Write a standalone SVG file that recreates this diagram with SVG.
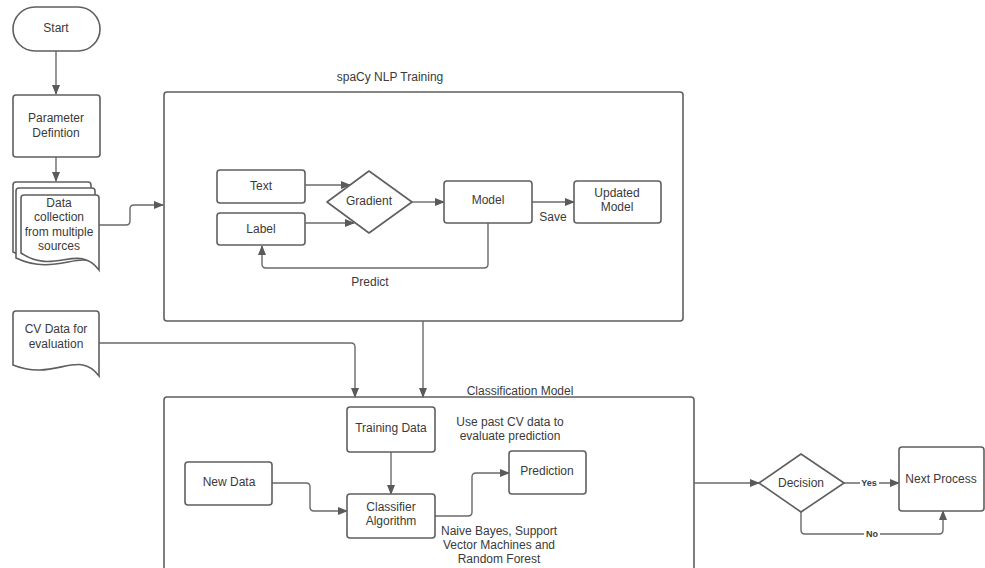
<svg xmlns="http://www.w3.org/2000/svg" width="985" height="568" viewBox="0 0 985 568">
<defs>
<marker id="arr" markerWidth="10" markerHeight="8" refX="9" refY="4" orient="auto" markerUnits="userSpaceOnUse">
<path d="M0,0 L10,4 L0,8 Z" fill="#5a5a5a"/>
</marker>
<style>
.n{fill:#fff;stroke:#5f5f5f;stroke-width:1.6}
.g{fill:none;stroke:#5f5f5f;stroke-width:1.6}
.ca{fill:none;stroke:#6a6a6a;stroke-width:1.4;stroke-linejoin:round;marker-end:url(#arr)}
text{font-family:"Liberation Sans",Arial,sans-serif;font-size:12px;fill:#3a3a3a;text-anchor:middle;dominant-baseline:central}
.s{font-size:9px;font-weight:bold}
</style>
</defs>
<rect width="985" height="568" fill="#fff"/>

<g id="spacy">
<rect class="g" x="164" y="92" width="519" height="229" rx="3"/>
<text x="390" y="77">spaCy NLP Training</text>
</g>

<g id="classification">
<rect class="g" x="164" y="397" width="530" height="180" rx="3"/>
<text x="520" y="391">Classification Model</text>
<text x="510" y="422">Use past CV data to</text>
<text x="510" y="436">evaluate prediction</text>
<text x="499" y="531">Naive Bayes, Support</text>
<text x="499" y="545">Vector Machines and</text>
<text x="499" y="559">Random Forest</text>
</g>

<g id="connectors">
<path class="ca" d="M56,51 V94"/>
<path class="ca" d="M56,157 V181"/>
<path class="ca" d="M99,225 H126 Q130,225 130,221 V209 Q130,205 134,205 H163"/>
<path class="ca" d="M305,185 H350"/>
<path class="ca" d="M305,223 H354"/>
<path class="ca" d="M412,202 H444"/>
<path class="ca" d="M532,202 H574"/>
<path class="ca" d="M488,223 V264 Q488,268 484,268 H266 Q262,268 262,264 V246"/>
<path class="ca" d="M423,321 V397"/>
<path class="ca" d="M99,343 H351 Q355,343 355,347 V397"/>
<path class="ca" d="M391,452 V494"/>
<path class="ca" d="M272,483 H306 Q310,483 310,487 V507 Q310,511 314,511 H347"/>
<path class="ca" d="M435,516 H468 Q472,516 472,512 V477 Q472,473 476,473 H509"/>
<path class="ca" d="M694,483 H759"/>
<path class="ca" d="M844,483 H899"/>
<path class="ca" d="M801,512 V530 Q801,534 805,534 H939 Q943,534 943,530 V511"/>
<text x="553" y="217">Save</text>
<text x="370" y="282">Predict</text>
<rect x="860" y="478" width="19" height="10" fill="#fff"/>
<text class="s" x="869" y="483">Yes</text>
<rect x="864" y="529" width="16" height="10" fill="#fff"/>
<text class="s" x="872" y="534">No</text>
</g>

<g id="start">
<rect class="n" x="13" y="7" width="87" height="44" rx="22"/>
<text x="56" y="28">Start</text>
</g>

<g id="parameter">
<rect class="n" x="13" y="95" width="87" height="62" rx="3"/>
<text x="56" y="118">Parameter</text>
<text x="56" y="133">Defintion</text>
</g>

<g id="data-collection">
<path class="n" d="M16,182 H88 Q91,182 91,185 V258 C75,245 50,270 13,252 V185 Q13,182 16,182 Z"/>
<path class="n" d="M19,188 H92 Q95,188 95,191 V264 C79,251 54,276 16,258 V191 Q16,188 19,188 Z"/>
<path class="n" d="M24,195 H96 Q99,195 99,198 V270 C78,242 55,276 21,253 V198 Q21,195 24,195 Z"/>
<text x="59" y="203">Data</text>
<text x="59" y="217">collection</text>
<text x="59" y="232">from multiple</text>
<text x="59" y="246">sources</text>
</g>

<g id="cv-data">
<path class="n" d="M16,311 H96 Q99,311 99,314 V376 C78,348 55,382 13,365 V314 Q13,311 16,311 Z"/>
<text x="56" y="329">CV Data for</text>
<text x="56" y="344">evaluation</text>
</g>

<g id="text">
<rect class="n" x="217" y="170" width="88" height="33" rx="3"/>
<text x="261" y="186">Text</text>
</g>

<g id="label">
<rect class="n" x="217" y="213" width="88" height="32" rx="3"/>
<text x="261" y="229">Label</text>
</g>

<g id="gradient">
<path class="n" d="M369,171 L412,202 L369,233 L327,202 Z" stroke-linejoin="round"/>
<text x="369" y="201">Gradient</text>
</g>

<g id="model">
<rect class="n" x="444" y="181" width="88" height="42" rx="3"/>
<text x="488" y="200">Model</text>
</g>

<g id="updated-model">
<rect class="n" x="574" y="181" width="87" height="42" rx="3"/>
<text x="617" y="193">Updated</text>
<text x="617" y="207">Model</text>
</g>

<g id="training-data">
<rect class="n" x="347" y="407" width="88" height="45" rx="3"/>
<text x="391" y="428">Training Data</text>
</g>

<g id="new-data">
<rect class="n" x="185" y="462" width="87" height="43" rx="3"/>
<text x="229" y="482">New Data</text>
</g>

<g id="classifier">
<rect class="n" x="347" y="494" width="88" height="44" rx="3"/>
<text x="391" y="507">Classifier</text>
<text x="391" y="521">Algorithm</text>
</g>

<g id="prediction">
<rect class="n" x="509" y="451" width="77" height="43" rx="3"/>
<text x="547" y="471">Prediction</text>
</g>

<g id="decision">
<path class="n" d="M801,454 L844,483 L801,512 L759,483 Z" stroke-linejoin="round"/>
<text x="801" y="483">Decision</text>
</g>

<g id="next-process">
<rect class="n" x="899" y="447" width="85" height="64" rx="3"/>
<text x="941" y="479">Next Process</text>
</g>
</svg>
